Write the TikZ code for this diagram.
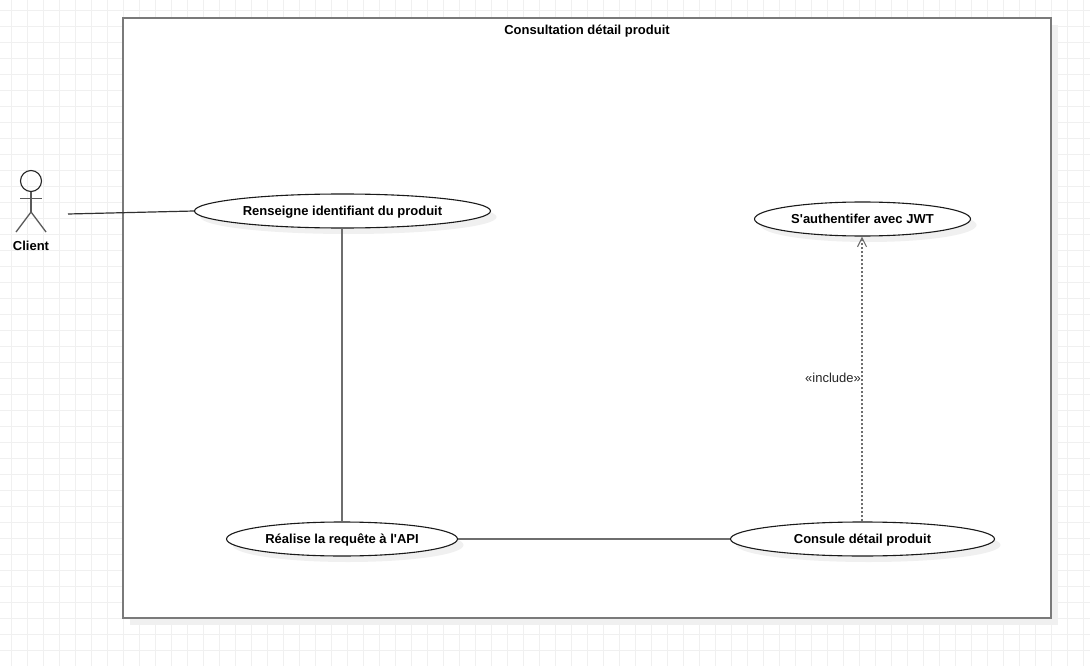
\documentclass[tikz,border=0pt]{standalone}
\usepackage{fontspec}
\setmainfont{Liberation Sans}
\newfontfamily\plainf{Liberation Sans}
\usetikzlibrary{shapes.geometric,arrows.meta}
\definecolor{gridc}{HTML}{F0F0F0}
\definecolor{shadowc}{HTML}{F0F0F0}
\definecolor{framec}{HTML}{7A7A7A}
\definecolor{inkc}{HTML}{1A1A1A}
\definecolor{linkc}{HTML}{6E6E6E}
\tikzset{
  usecase/.style={ellipse,draw=inkc,line width=1.1pt,fill=white,inner sep=0pt,text height=8.5pt,text depth=0.5pt,font=\plainf\fontsize{13}{15}\selectfont\bfseries,text=black},
  caseshadow/.style={ellipse,fill=shadowc,inner sep=0pt},
  assoc/.style={draw=linkc,line width=2pt},
  actorline/.style={draw=black!65,line width=1.3pt},
  plainlabel/.style={inner sep=0pt,font=\plainf\fontsize{13}{15}\selectfont\bfseries,text=black},
}
\begin{document}
\begin{tikzpicture}[x=1pt,y=-1pt]
\useasboundingbox (0,0) rectangle (1090,666);
\fill[white] (0,0) rectangle (1090,666);
% grid
\foreach \gx in {11.5,27.5,...,1090}{\draw[gridc,line width=1pt] (\gx,0) -- (\gx,666);}
\foreach \gy in {10.5,26.5,...,666}{\draw[gridc,line width=1pt] (0,\gy) -- (1090,\gy);}
% frame
\fill[shadowc] (130,25) rectangle (1058,625);
\node[draw=framec,fill=white,line width=2.2pt,outer sep=0pt,minimum width=928pt,minimum height=600pt,inner sep=0pt,anchor=north west] (frame) at (123,18) {};
\node[plainlabel] (title) at (587,31.5) {Consultation détail produit};
% shadows
\node[caseshadow,minimum width=296pt,minimum height=34pt] at (348.5,217) {};
\node[caseshadow,minimum width=216pt,minimum height=34pt] at (868.5,225) {};
\node[caseshadow,minimum width=231pt,minimum height=34pt] at (348,545) {};
\node[caseshadow,minimum width=264pt,minimum height=34pt] at (868.5,545) {};
\coordinate (actorend) at (68,214);
% use cases
\node[usecase,minimum width=296pt,minimum height=34pt] (renseigne) at (342.5,211) {Renseigne identifiant du produit};
\node[usecase,minimum width=216pt,minimum height=34pt] (auth) at (862.5,219) {S'authentifer avec JWT};
\node[usecase,minimum width=231pt,minimum height=34pt] (requete) at (342,539) {Réalise la requête à l'API};
\node[usecase,minimum width=264pt,minimum height=34pt] (detail) at (862.5,539) {Consule détail produit};
% actor
\node[circle,draw=black!85,line width=1.1pt,fill=none,minimum size=21pt,inner sep=0pt] (head) at (31,181) {};
\coordinate (hip) at (31,212);
\coordinate (armL) at (20,198.5);
\coordinate (armR) at (42,198.5);
\coordinate (legL) at (16,232);
\coordinate (legR) at (46,232);
\draw[actorline] (head.south) -- (hip);
\draw[actorline] (armL) -- (armR);
\draw[actorline] (legL) -- (hip) -- (legR);
\node[plainlabel] (client) at (31,246) {Client};
% connectors
\draw[draw=inkc!90,line width=1.2pt] (actorend) -- (renseigne.west);
\draw[assoc] (renseigne.south -| requete.north) -- (requete.north);
\draw[assoc] ([yshift=0.5pt]requete.east) -- ([yshift=0.5pt]detail.west);
\draw[draw=linkc,line width=2pt,dash pattern=on 2pt off 2pt,-{Straight Barb[length=9pt,width=9pt,line width=1.1pt]}] ([xshift=-0.5pt]detail.north) -- ([xshift=-0.5pt]auth.south);
\node[inner sep=0pt,font=\plainf\fontsize{13}{15}\selectfont,text=black!85] (inc) at (833,378) {«include»};
\end{tikzpicture}
\end{document}
